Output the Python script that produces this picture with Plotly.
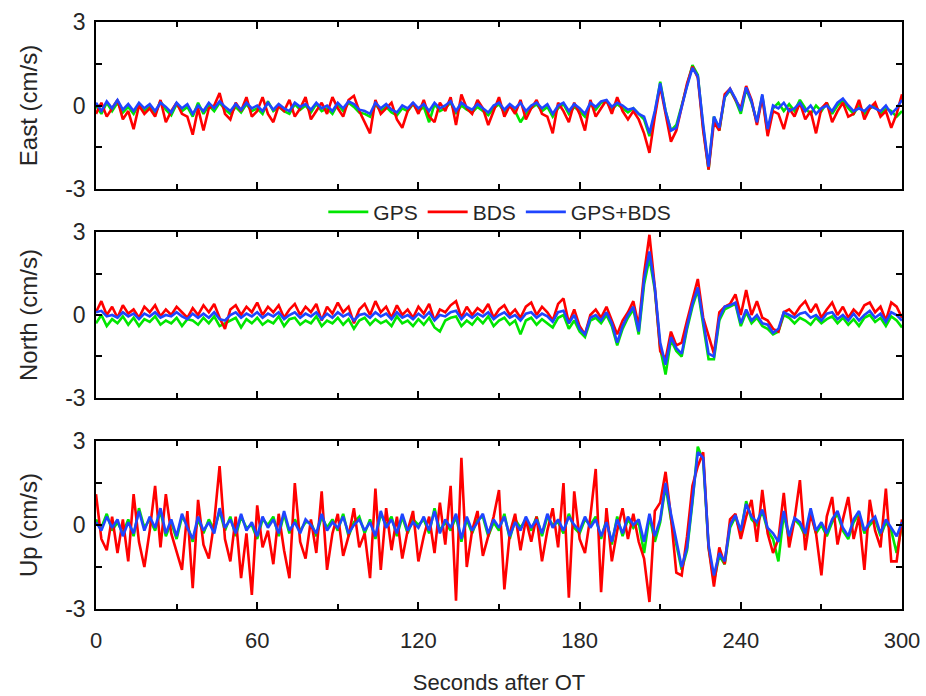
import plotly.graph_objects as go

# time axis (seconds after OT), 2 s sampling
t = list(range(0, 301, 2))

# ---------------- East ----------------
east_gps = [
    0.0, -0.3, 0.1, -0.2, 0.1, -0.25, -0.05, -0.3, 0.05, -0.2,
    -0.05, -0.3, 0.15, -0.15, -0.35, 0.05, -0.2, -0.05, -0.4, 0.1,
    -0.3, 0.0, -0.2, 0.1, -0.15, -0.3, -0.05, -0.25, 0.05, -0.2,
    -0.1, -0.3, 0.15, -0.2, -0.05, -0.2, -0.3, 0.05, -0.15, 0.0,
    -0.25, 0.05, -0.2, -0.1, -0.3, 0.05, -0.2, 0.1, -0.05, -0.25,
    -0.3, -0.4, 0.05, -0.2, -0.05, -0.25, -0.35, -0.1, -0.2, 0.05,
    -0.2, -0.05, -0.6, 0.05, -0.2, -0.1, 0.1, -0.3, 0.0, -0.15,
    -0.25, -0.05, -0.2, -0.35, -0.1, 0.05, -0.25, 0.0, -0.2, -0.6,
    -0.3, -0.1, 0.05, -0.2, -0.05, -0.4, -0.1, 0.05, -0.3, -0.05,
    -0.2, -0.4, 0.05, -0.15, 0.1, 0.15, -0.15, 0.05, -0.1, -0.25,
    -0.1, -0.3, -0.5, -1.1, -0.3, 0.85, -0.2, -0.9, -0.7, 0.0,
    0.7, 1.45, 1.1, -0.8, -2.3, -0.4, -0.9, 0.3, 0.55, 0.2,
    -0.3, 0.6, 0.1, -0.6, 0.35, -1.0, -0.1,
    0.1, -0.2, 0.05, -0.2, 0.2, -0.1, -0.3, 0.0, -0.2, 0.1,
    -0.3, 0.0, 0.2, -0.1, -0.3, 0.0, -0.3, -0.1, 0.0, -0.3,
    -0.1, -0.2, -0.4, -0.2,
]
east_bds = [
    -0.3, 0.1, -0.4, -0.1, 0.2, -0.5, -0.2, -0.85, 0.0, -0.3,
    -0.1, -0.4, 0.2, -0.6, -0.2, 0.1, -0.3, -0.4, -1.05, -0.1,
    -0.9, -0.1, 0.0, 0.45, -0.3, -0.5, 0.1, -0.2, 0.3, -0.4,
    -0.2, 0.3, -0.3, -0.6, 0.0, -0.2, 0.2, -0.4, -0.1, 0.3,
    -0.5, -0.2, 0.1, -0.3, 0.3, -0.1, -0.4, 0.2, 0.35, -0.2,
    -0.6, -1.0, 0.2, -0.3, -0.1, 0.1, -0.5, -0.8, -0.2, 0.1,
    -0.3, 0.2, -0.4, -0.6, 0.1, -0.2, 0.3, -0.7, 0.4, -0.1,
    -0.3, 0.2, -0.1, -0.7, -0.2, 0.3, -0.4, 0.0, -0.3, 0.2,
    -0.5, -0.1, 0.2, -0.3, -0.4, -1.0, 0.1, -0.2, -0.6, 0.1,
    -0.3, -0.9, 0.2, -0.4, -0.1, 0.2, -0.3, 0.3, -0.2, -0.5,
    -0.2, -0.5, -1.0, -1.7, -0.4, 0.7, -0.3, -1.3, -0.9, -0.1,
    0.8, 1.4, 1.0, -0.9, -2.3, -0.6, -0.9, 0.4, 0.6, 0.2,
    -0.1, 0.7, 0.2, -0.7, 0.3, -1.1, -0.2,
    -0.3, -0.85, -0.1, -0.4, 0.1, -0.5, -0.2, -1.0, -0.1, 0.1,
    -0.6, -0.2, 0.1, -0.4, -0.3, 0.2, -0.5, -0.1, 0.1, -0.4,
    -0.2, -0.8, -0.3, 0.4,
]
east_both = [
    0.1, -0.2, 0.15, -0.1, 0.2, -0.15, 0.05, -0.2, 0.1, -0.1,
    0.05, -0.2, 0.1, -0.05, -0.25, 0.1, -0.1, 0.05, -0.3, 0.0,
    -0.2, 0.1, -0.1, 0.15, -0.05, -0.2, 0.05, -0.15, 0.1, -0.1,
    0.0, -0.2, 0.1, -0.15, 0.05, -0.1, -0.2, 0.1, -0.05, 0.05,
    -0.15, 0.1, -0.1, 0.0, -0.2, 0.1, -0.1, 0.15, 0.05, -0.15,
    -0.2, -0.3, 0.1, -0.1, 0.05, -0.15, -0.25, 0.0, -0.1, 0.1,
    -0.1, 0.05, -0.2, 0.1, -0.1, 0.0, 0.15, -0.2, 0.1, -0.05,
    -0.15, 0.05, -0.1, -0.25, 0.0, 0.1, -0.15, 0.05, -0.1, 0.1,
    -0.2, 0.0, 0.1, -0.1, 0.05, -0.3, 0.0, 0.1, -0.2, 0.05,
    -0.1, -0.3, 0.1, -0.05, 0.15, 0.2, -0.05, 0.1, 0.0, -0.15,
    -0.1, -0.3, -0.4, -1.0, -0.2, 0.8, -0.2, -0.9, -0.8, 0.0,
    0.7, 1.35, 1.05, -0.7, -2.2, -0.4, -0.8, 0.3, 0.6, 0.25,
    -0.2, 0.65, 0.15, -0.6, 0.4, -0.85, 0.0,
    -0.1, 0.1, -0.2, -0.1, 0.1, -0.2, 0.0, -0.3, -0.1, 0.0,
    -0.2, 0.1, 0.25, 0.0, -0.2, -0.1, -0.2, 0.0, -0.1, -0.2,
    0.0, -0.3, -0.1, 0.2,
]

# ---------------- North ----------------
north_gps = [
    -0.3, 0.0, -0.4, -0.15, -0.3, -0.05, -0.35, -0.1, -0.4, -0.15,
    -0.25, -0.05, -0.35, -0.2, -0.3, -0.1, -0.4, -0.15, -0.2, -0.35,
    -0.1, -0.3, -0.05, -0.4, -0.3, -0.2, -0.1, -0.45, -0.15, -0.3,
    -0.1, -0.35, -0.2, -0.3, -0.05, -0.4, -0.15, -0.1, -0.35, -0.2,
    -0.3, -0.05, -0.4, -0.2, -0.3, -0.1, -0.35, -0.15, -0.5, -0.2,
    -0.1, -0.35, -0.15, -0.3, -0.2, -0.4, -0.05, -0.3, -0.2, -0.4,
    -0.15, -0.35, -0.1, -0.45, -0.6, -0.2, -0.1, -0.05, -0.4, -0.2,
    -0.35, -0.1, -0.3, -0.05, -0.4, -0.2, -0.1, -0.35, -0.2, -0.7,
    -0.2, -0.1, -0.35, -0.15, -0.3, -0.45, -0.1, 0.0, -0.5, -0.2,
    -0.6, -0.8, -0.2, -0.1, -0.3, 0.0, -0.4, -1.1, -0.5, -0.1,
    0.2, -0.7, 1.1, 2.05, 0.9, -1.2, -2.15, -0.9, -1.3, -1.5,
    -0.5, 0.3, 0.9, -0.3, -1.6, -1.6, -0.2, 0.2, 0.3, 0.4,
    -0.4, 0.1, -0.3, -0.1, -0.4, -0.5, -0.7, -0.6, 0.0, -0.1,
    -0.3, -0.1, -0.2, -0.35, -0.1, -0.3, -0.15, -0.05, -0.3, -0.1,
    -0.35, -0.15, -0.4, -0.1, 0.0, -0.25, -0.1, -0.4, -0.05, -0.2,
    -0.45,
]
north_bds = [
    0.1, 0.5, 0.0, 0.3, -0.1, 0.35, 0.05, 0.2, -0.1, 0.3,
    0.1, 0.35, -0.05, 0.2, 0.0, 0.3, 0.1, -0.1, 0.25, 0.0,
    0.35, 0.1, 0.4, -0.1, -0.5, 0.2, 0.35, 0.0, 0.3, 0.1,
    0.45, 0.0, 0.3, 0.1, 0.35, -0.1, 0.2, 0.4, 0.0, 0.3,
    0.1, 0.4, -0.2, 0.3, 0.05, 0.45, 0.1, 0.3, -0.3, 0.2,
    0.4, 0.0, 0.5, 0.1, 0.3, -0.1, 0.35, 0.0, 0.2, -0.1,
    0.3, 0.05, 0.4, -0.2, 0.2, 0.1, 0.35, 0.5, -0.1, 0.3,
    0.0, 0.25, 0.1, 0.4, -0.1, 0.2, 0.35, 0.0, 0.2, -0.1,
    0.3, 0.45, 0.0, 0.3, 0.1, -0.2, 0.4, 0.6, -0.3, 0.2,
    -0.4, -0.7, 0.0, 0.2, -0.1, 0.3, -0.2, -0.7, -0.2, 0.1,
    0.5, -0.4, 1.5, 2.9, 1.0, -1.3, -1.6, -0.6, -1.1, -1.0,
    -0.2, 0.6, 1.3, -0.1, -0.8, -1.4, 0.1, 0.3, 0.4, 0.75,
    0.0, 0.9, 0.0, 0.5, -0.1, -0.2, -0.5, -0.6, 0.1, 0.2,
    0.0, 0.3, 0.5, 0.1, 0.4, -0.1, 0.2, 0.45, 0.0, 0.3,
    -0.1, 0.2, 0.0, 0.35, 0.45, 0.1, 0.3, -0.2, 0.45, 0.3,
    -0.1,
]
north_both = [
    0.1, 0.15, -0.05, 0.0, -0.1, 0.1, -0.05, 0.05, -0.15, 0.05,
    -0.05, 0.1, -0.1, 0.0, -0.05, 0.1, -0.05, -0.15, 0.05, -0.1,
    0.05, -0.1, 0.1, -0.15, -0.2, 0.0, 0.1, -0.1, 0.05, -0.05,
    0.1, -0.1, 0.05, -0.05, 0.1, -0.15, 0.0, 0.1, -0.1, 0.05,
    -0.05, 0.1, -0.15, 0.05, -0.1, 0.1, -0.05, 0.05, -0.2, 0.0,
    0.05, -0.1, 0.1, -0.05, 0.05, -0.15, 0.1, -0.1, 0.0, -0.15,
    0.05, -0.1, 0.1, -0.2, 0.0, -0.05, 0.1, 0.15, -0.15, 0.05,
    -0.1, 0.05, -0.05, 0.1, -0.15, 0.0, 0.1, -0.1, 0.0, -0.2,
    0.05, 0.1, -0.1, 0.05, -0.05, -0.25, 0.1, 0.15, -0.3, 0.0,
    -0.5, -0.7, -0.1, 0.0, -0.2, 0.1, -0.3, -1.0, -0.4, 0.0,
    0.3, -0.6, 1.3, 2.3, 1.0, -1.0, -1.8, -0.8, -1.2, -1.4,
    -0.4, 0.4, 1.0, -0.2, -1.4, -1.5, -0.1, 0.3, 0.35, 0.45,
    -0.3, 0.2, -0.2, 0.0, -0.3, -0.35, -0.65, -0.5, 0.1, 0.0,
    -0.1, 0.05, 0.1, -0.1, 0.0, -0.2, 0.05, 0.1, -0.15, 0.0,
    -0.2, 0.05, -0.2, 0.0, 0.15, -0.1, 0.05, -0.25, 0.1, 0.0,
    -0.2,
]

# ---------------- Up ----------------
up_gps = [
    0.2, -0.1, 0.4, -0.2, 0.1, -0.3, 0.2, -0.4, 0.6, -0.1,
    0.2, -0.2, 0.5, -0.4, 0.1, -0.5, 0.3, 0.0, -0.6, 0.2,
    -0.3, 0.2, -0.2, 0.5, -0.2, 0.3, -0.4, 0.3, -0.1, 0.0,
    -0.5, 0.2, 0.0, 0.3, -0.4, 0.4, -0.3, 0.2, -0.2, 0.1,
    0.1, -0.4, 0.3, -0.1, 0.2, -0.2, 0.4, -0.4, 0.1, 0.3,
    -0.3, 0.2, -0.5, 0.4, 0.0, 0.3, -0.4, 0.3, -0.3, 0.2,
    0.0, 0.2, -0.3, 0.6, -0.2, 0.1, -0.2, 0.3, -0.6, 0.2,
    -0.3, 0.2, 0.3, -0.4, 0.1, -0.2, 0.4, -0.5, 0.2, -0.1,
    0.2, -0.2, 0.3, -0.4, 0.3, 0.0, 0.1, -0.3, 0.4, -0.1,
    -0.3, 0.2, 0.0, 0.3, -0.5, 0.2, -0.7, 0.3, -0.4, 0.2,
    -0.1, 0.1, -1.0, 0.3, -0.6, 0.1, 1.4, 0.2, -0.7, -1.6,
    -0.9, 0.8, 2.8, 2.3, -0.8, -2.0, -1.1, -1.4, -0.1, 0.3,
    -0.3, 0.85, 0.2, 0.0, 0.5, -0.2, -0.5, -1.3, 0.4, -0.5,
    0.2, 0.0, -0.4, 0.5, -0.3, 0.0, -0.4, 0.1, 0.4, -0.2,
    -0.5, 0.1, 0.4, -0.3, 0.0, 0.2, -0.4, 0.1, -0.2, -1.0,
    0.0,
]
up_bds = [
    1.1, -0.5, -0.9, 0.3, -1.0, 0.2, -1.3, 1.1, -0.6, -1.5,
    -0.2, 1.4, -0.8, 1.1, -0.3, -1.0, -1.6, 0.5, -2.26, 0.9,
    -0.7, -1.2, 0.1, 2.1, -0.5, -1.3, 0.3, -1.9, -0.3, -2.5,
    0.7, -0.8, -0.2, -1.4, 0.4, -0.9, -1.9, 1.5, -0.6, -1.2,
    0.2, -1.0, 1.2, -1.6, -0.3, 0.4, -1.1, -0.4, 0.6, -0.8,
    -0.3, -1.9, 1.3, -1.6, 0.6, -0.9, 0.3, -1.2, -0.2, 0.5,
    -1.3, -0.4, 0.3, -1.0, 0.8, -0.7, 1.4, -2.7, 2.4, -1.5,
    -0.2, 0.5, -1.1, -0.4, 0.3, 1.25, -2.3, -0.3, 0.4, -0.9,
    0.2, -0.6, 0.3, -1.3, -0.2, 0.6, -0.8, 1.5, -2.6, 1.2,
    -0.5, -1.0, 0.3, 2.0, -2.4, 0.6, -1.3, -0.2, 0.6, -0.5,
    0.4, -0.6, -1.2, -2.75, 0.5, 0.8, 1.9, 0.3, -1.7, -1.8,
    -0.4, 1.4, 2.1, 2.6, -0.8, -2.2, -0.8, -1.4, 0.2, 0.4,
    -0.5, 0.3, 0.9, -0.6, 1.25, -0.3, -1.0, -0.5, 1.15, -0.8,
    0.2, 1.6, -0.9, 0.4, -0.3, -1.8, 0.3, 1.0, -0.7, 0.2,
    1.0, -0.5, 0.3, -1.6, 0.9, -0.2, -0.8, 1.3, -1.3, -1.3,
    0.2,
]
up_both = [
    0.1, -0.2, 0.3, -0.1, 0.2, -0.4, 0.1, -0.3, 0.5, -0.2,
    0.3, -0.1, 0.6, -0.3, 0.2, -0.4, 0.4, -0.1, -0.5, 0.3,
    -0.2, 0.1, -0.3, 0.6, -0.1, 0.2, -0.3, 0.4, -0.2, 0.1,
    -0.4, 0.3, -0.1, 0.2, -0.3, 0.5, -0.2, 0.1, -0.3, 0.2,
    0.0, -0.3, 0.4, -0.2, 0.1, -0.1, 0.3, -0.3, 0.0, 0.2,
    -0.2, 0.1, -0.4, 0.5, -0.1, 0.2, -0.3, 0.4, -0.2, 0.1,
    -0.1, 0.3, -0.2, 0.5, -0.3, 0.2, -0.1, 0.4, -0.5, 0.3,
    -0.2, 0.1, 0.4, -0.3, 0.2, -0.1, 0.3, -0.4, 0.1, -0.2,
    0.3, -0.1, 0.2, -0.3, 0.4, -0.1, 0.2, -0.2, 0.3, 0.0,
    -0.2, 0.3, -0.1, 0.2, -0.4, 0.1, -0.6, 0.2, -0.3, 0.3,
    0.0, 0.2, -0.6, 0.4, -0.4, 0.2, 1.5, 0.4, -0.6, -1.5,
    -0.8, 0.9, 2.6, 2.4, -0.7, -1.8, -1.0, -1.3, 0.0, 0.35,
    -0.2, 0.75, 0.3, 0.1, 0.55, -0.1, -0.3, -0.6, 0.5, -0.4,
    0.25, 0.1, -0.3, 0.6, -0.2, 0.1, -0.3, 0.2, 0.5, -0.1,
    -0.4, 0.2, 0.5, -0.2, 0.1, 0.3, -0.3, 0.2, -0.1, -0.4,
    0.1,
]

series_names = ["GPS", "BDS", "GPS+BDS"]
series_colors = ["#00e600", "#ff0000", "#1f45ff"]
panel_titles = ["East (cm/s)", "North (cm/s)", "Up (cm/s)"]
panel_data = [
    [east_gps, east_bds, east_both],
    [north_gps, north_bds, north_both],
    [up_gps, up_bds, up_both],
]
x_ticks = [0, 60, 120, 180, 240, 300]
y_ticks = [-3, -1.5, 0, 1.5, 3]
y_ticktext = ["-3", "", "0", "", "3"]

# plot area geometry (paper fractions), top -> bottom
domains = [[0.7155, 1.0], [0.3595, 0.6422], [0.0, 0.2862]]

FONT = "Liberation Sans, Arial, sans-serif"
TXT = "#262626"
fig = go.Figure()

for p in range(3):
    xa = "x" if p == 0 else f"x{p+1}"
    ya = "y" if p == 0 else f"y{p+1}"
    for s in range(3):
        fig.add_trace(go.Scatter(
            x=t, y=panel_data[p][s], mode="lines",
            name=series_names[s], legendgroup=series_names[s],
            showlegend=(p == 0),
            line=dict(color=series_colors[s], width=2.6),
            xaxis=xa, yaxis=ya,
        ))

layout = dict(
    width=926, height=696,
    margin=dict(l=96, r=24, t=22, b=87),
    paper_bgcolor="white", plot_bgcolor="white",
    font=dict(family=FONT, size=21, color=TXT),
    legend=dict(orientation="h", x=0.501, y=0.676, xanchor="center", yanchor="middle",
                bgcolor="rgba(0,0,0,0)", font=dict(size=21, color=TXT),
                itemwidth=40, tracegroupgap=0),
    showlegend=True,
)

for p in range(3):
    xkey = "xaxis" if p == 0 else f"xaxis{p+1}"
    ykey = "yaxis" if p == 0 else f"yaxis{p+1}"
    yname = "y" if p == 0 else f"y{p+1}"
    xname = "x" if p == 0 else f"x{p+1}"
    layout[xkey] = dict(
        domain=[0, 1], anchor=yname, range=[0, 300], automargin=False,
        tickvals=x_ticks, ticks="inside", ticklen=7, tickwidth=1.5, tickcolor="black",
        minor=dict(dtick=30, tick0=0, ticks="inside", ticklen=5, tickwidth=1.5, tickcolor="black"),
        showline=True, linecolor="black", linewidth=1.5, mirror="ticks",
        showgrid=False, zeroline=False,
        showticklabels=(p == 2), ticklabelstandoff=11,
        tickfont=dict(size=22, color=TXT),
    )
    if p == 2:
        layout[xkey]["title"] = dict(text="Seconds after OT", font=dict(size=22, color=TXT), standoff=22)
    if p > 0:
        layout[xkey]["matches"] = "x"
    layout[ykey] = dict(
        domain=domains[p], anchor=xname, range=[-3, 3], automargin=False,
        tickvals=y_ticks, ticktext=y_ticktext,
        ticks="inside", ticklen=6, tickwidth=1.5, tickcolor="black",
        showline=True, linecolor="black", linewidth=1.5, mirror="ticks",
        showgrid=False, zeroline=False, ticklabelstandoff=4,
        tickfont=dict(size=23, color=TXT),
        title=dict(text=panel_titles[p], font=dict(size=24, color=TXT), standoff=21),
    )

fig.update_layout(**layout)
# remove the browser's default 8 px body margin so the figure fills the window exactly
fig.write_html("out.html", config={"displayModeBar": False},
               post_script="document.body.style.margin='0';")
